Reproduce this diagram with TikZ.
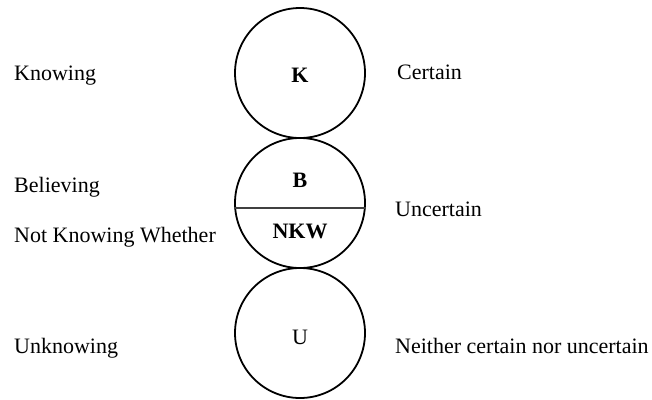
\documentclass[tikz,border=0pt]{standalone}
\usepackage{fontspec}
\setmainfont{Liberation Serif}
\begin{document}
\begin{tikzpicture}[x=1pt,y=-1pt,
  ring/.style={draw,line width=1.8pt,circle,minimum size=130pt,inner sep=0pt},
  lbl/.style={anchor=base west,inner sep=0pt,font=\fontsize{22}{26}\selectfont},
  ctr/.style={anchor=base,inner sep=0pt,font=\fontsize{22}{26}\selectfont},
  divider/.style={draw,line width=1.2pt,black!75}]
\useasboundingbox (0,0) rectangle (652,399);
\node[ring] (k) at (300,73) {};
\node[ring] (m) at (300,203) {};
\node[ring] (u) at (300,333) {};
\draw[divider] ([yshift=-5pt]m.west) -- ([yshift=-5pt]m.east);
\node[ctr,font=\fontsize{22}{26}\selectfont\bfseries] (kt) at (300,82) {K};
\node[ctr,font=\fontsize{22}{26}\selectfont\bfseries] (bt) at (300,187) {B};
\node[ctr,font=\fontsize{22}{26}\selectfont\bfseries] (nt) at (300,238) {NKW};
\node[ctr] (ut) at (300,344) {U};
\node[lbl] (l1) at (14,80) {Knowing};
\node[lbl] (l2) at (14,192) {Believing};
\node[lbl] (l3) at (14,242) {Not Knowing Whether};
\node[lbl] (l4) at (14,353) {Unknowing};
\node[lbl] (r1) at (397,79) {Certain};
\node[lbl] (r2) at (395,216) {Uncertain};
\node[lbl] (r3) at (395,353) {Neither certain nor uncertain};
\end{tikzpicture}
\end{document}
